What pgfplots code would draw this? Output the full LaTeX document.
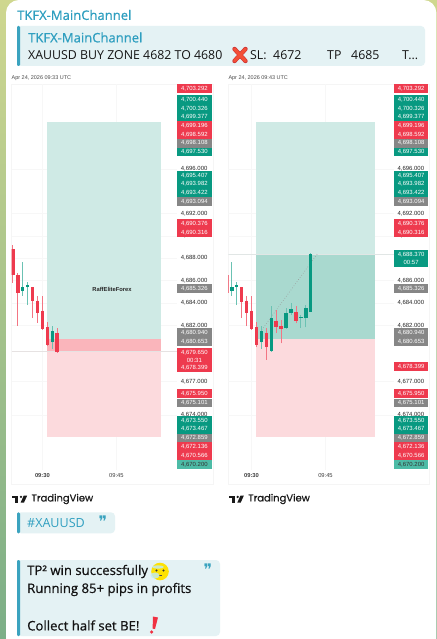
\documentclass[border=0pt]{standalone}
\usepackage{pgfplots}
\pgfplotsset{compat=1.18}
\usepackage{fontspec}
\setmainfont{Open Sans}
\newfontfamily\tv{Liberation Sans}
\newfontfamily\logo[FakeBold=0.6]{Poppins}
\newfontfamily\dv{DejaVu Sans}
\newfontfamily\semi[FakeBold=0.7]{Open Sans}
\definecolor{tvred}{HTML}{EE3A4E}
\definecolor{tvgreen}{HTML}{089981}
\definecolor{tvgrey}{HTML}{868686}
\definecolor{tvteal}{HTML}{4DBBA6}
\definecolor{zoneg}{HTML}{CFEAE5}
\definecolor{zonegd}{HTML}{A9D9CF}
\definecolor{zoner}{HTML}{FCDADD}
\definecolor{zonerd}{HTML}{FAB5BB}
\definecolor{tg}{HTML}{2F9FC0}
\definecolor{quote}{HTML}{E4F2F4}
\definecolor{bar}{HTML}{3BA3BF}
\definecolor{wallA}{HTML}{CFD78F}
\definecolor{wallB}{HTML}{7BAE87}

\newcommand\ptag[4]{%
  \fill[#3] (177.3+#1,#2-4.45) rectangle (211.6+#1,#2+4.45);
  \node[text=white,font=\tv\fontsize{6}{7}\selectfont,inner sep=0] at (194.4+#1,#2) {#4};}
\newcommand\sharedtags[1]{%
  \ptag{#1}{88.7}{tvred}{4,703.292}
  \ptag{#1}{99.7}{tvgreen}{4,700.440}
  \ptag{#1}{108.3}{tvgreen}{4,700.326}
  \ptag{#1}{117}{tvgreen}{4,699.377}
  \ptag{#1}{125.7}{tvred}{4,699.196}
  \ptag{#1}{134.4}{tvred}{4,698.592}
  \ptag{#1}{143.2}{tvgrey}{4,698.108}
  \ptag{#1}{152}{tvgreen}{4,697.530}
  \ptag{#1}{175.3}{tvgreen}{4,695.407}
  \ptag{#1}{184}{tvgreen}{4,693.982}
  \ptag{#1}{192.7}{tvgreen}{4,693.422}
  \ptag{#1}{201.4}{tvgrey}{4,693.094}
  \ptag{#1}{223.7}{tvred}{4,690.376}
  \ptag{#1}{232.4}{tvred}{4,690.316}
  \ptag{#1}{288.7}{tvgrey}{4,685.326}
  \ptag{#1}{332.4}{tvgrey}{4,680.940}
  \ptag{#1}{341.3}{tvgrey}{4,680.653}
  \ptag{#1}{393.7}{tvred}{4,675.950}
  \ptag{#1}{403}{tvgrey}{4,675.101}
  \ptag{#1}{420.4}{tvgreen}{4,673.550}
  \ptag{#1}{429.2}{tvgreen}{4,673.467}
  \ptag{#1}{438}{tvgrey}{4,672.859}
  \ptag{#1}{446.8}{tvred}{4,672.136}
  \ptag{#1}{455.6}{tvred}{4,670.566}
  \fill[tvteal] (177.3+#1,460) rectangle (211.6+#1,468.8);
  \node[text=black!80,font=\tv\fontsize{6}{7}\selectfont,inner sep=0] at (194.4+#1,464.4) {4,670.200};
}
\newcommand\datestamp[2]{\node[text=black!70,font=\tv\fontsize{5.5}{7}\selectfont,anchor=west,inner sep=0] at (#1,78.6) {Apr 24, 2026 #2 UTC};}
\newcommand\pane[1]{\draw[black!4,line width=0.5] (11.7+#1,84) rectangle (213+#1,484);}
\newcommand\tvlogo[1]{%
  \begin{scope}[shift={(#1,0)}]
    \fill[black!90] (12,495.5) rectangle (18.4,497.7);
    \fill[black!90] (15,497.7) rectangle (18.4,502.6);
    \fill[black!90] (20.6,502.6) -- (23.8,495.5) -- (27.2,495.5) -- (24,502.6) -- cycle;
    \fill[black!90] (21,496.9) circle (1.3);
    \node[text=black!90,font=\logo\fontsize{10}{11}\selectfont,anchor=west,inner sep=0] at (31.3,499) {TradingView};
  \end{scope}}

\pgfplotsset{
  candle axis/.style={
    scale only axis, width=165.6bp, height=386bp,
    ymin=4669.08, ymax=4703.57,
    anchor=south west,
    axis line style={draw=none},
    major tick length=0pt,
    xtick={570,585},
    xticklabels={{\textbf{09:30}},{09:45}},
    x tick label style={font=\tv\fontsize{5.8}{7}\selectfont,text=black!75},
    yticklabel pos=right,
    scaled y ticks=false,
    y tick label style={font=\tv\fontsize{6}{7}\selectfont,text=black!85,
      /pgf/number format/assume math mode=true,
      /pgf/number format/fixed,/pgf/number format/fixed zerofill,
      /pgf/number format/precision=3,/pgf/number format/1000 sep={,}},
    xmajorgrids, ymajorgrids,
    major grid style={draw=black!3,line width=0.4bp},
    unbounded coords=jump,
  },
  zone/.style={fill=#1,draw=none,forget plot,mark=none},
  wick/.style={color=#1,line width=0.7bp,mark=none,forget plot,line cap=butt},
  body/.style={color=#1,line width=3.5bp,mark=none,forget plot,line cap=butt},
}

\begin{document}
\begin{tikzpicture}[x=1bp,y=-1bp]
\useasboundingbox (0,0) rectangle (437,639);
% wallpaper and message card
\shade[top color=wallA,bottom color=wallB] (0,0) rectangle (437,639);
\fill[white,rounded corners=13] (6,660) -- (6,0) -- (436.4,0) -- (436.4,660) -- cycle;

% header
\node[text=tg,font=\semi\fontsize{13.1}{15}\selectfont,anchor=west,inner sep=0] at (17,15) {TKFX-MainChannel};
\fill[quote,rounded corners=4] (17,26) rectangle (425,66);
\fill[bar,rounded corners=1.2] (17,26) rectangle (20,66);
\node[text=tg,font=\semi\fontsize{13.1}{15}\selectfont,anchor=west,inner sep=0] at (28,37.5) {TKFX-MainChannel};
\begin{scope}[every node/.style={text=black!92,font=\fontsize{12.4}{14}\selectfont,anchor=west,inner sep=0}]
\node at (28,55) {XAUUSD BUY ZONE 4682 TO 4680};
\node at (250,55) {SL:};
\node at (273,55) {4672};
\node at (327,55) {TP};
\node at (351,55) {4685};
\node at (402,55) {T...};
\end{scope}
% red cross
\draw[line width=4.4,line cap=round,color=red!75!black!80] (234.5,49) -- (245.5,61);
\draw[line width=4.4,line cap=round,color=red!75!black!80] (245.5,49) -- (234.5,61);
\draw[line width=3.2,line cap=round,color=tvred!70!orange] (234.5,49) -- (245.5,61);
\draw[line width=3.2,line cap=round,color=tvred!70!orange] (245.5,49) -- (234.5,61);

% panes
\datestamp{11.5}{09:33}
\datestamp{228.3}{09:43}
\pane{0}
\pane{216.7}

% ---------- left chart
\begin{axis}[candle axis, at={(11.7bp,-470bp)}, xmin=563.77, xmax=597.36,
  ytick={4674,4677,4682,4684,4686,4688,4690,4692,4696}]
\addplot[zone=zoneg] coordinates {(571,4700.20)(594,4700.20)(594,4680.83)(571,4680.83)};
\addplot[zone=zonerd] coordinates {(571,4680.83)(594,4680.83)(594,4679.65)(571,4679.65)};
\addplot[zone=zoner] coordinates {(571,4679.65)(594,4679.65)(594,4672.05)(571,4672.05)};
\addplot[color=tvred!20!black!12,line width=0.5bp,forget plot,mark=none] coordinates {(563.77,4679.65)(597.36,4679.65)};
% wicks, falling candles
\addplot[wick=tvred!70] coordinates {
 (564,4685.82)(564,4689.19)(564,nan)
 (565,4681.95)(565,4686.68)(565,nan)
 (568,4682.69)(568,4685.46)(568,nan)
 (569,4682.24)(569,4684.63)(569,nan)
 (570,4681.59)(570,4684.63)(570,nan)
 (571,4680.19)(571,4682.33)(571,nan)
 (573,4679.56)(573,4681.74)};
% wicks, rising candles
\addplot[wick=tvgreen!60] coordinates {
 (566,4684.63)(566,4687.69)(566,nan)
 (567,4683.82)(567,4685.85)(567,nan)
 (572,4679.89)(572,4681.95)};
% bodies, falling: open, close
\addplot[body=tvred] coordinates {
 (564,4688.80)(564,4686.48)(564,nan)
 (565,4686.50)(565,4684.92)(565,nan)
 (568,4685.41)(568,4684.18)(568,nan)
 (569,4684.21)(569,4683.08)(569,nan)
 (570,4683.31)(570,4681.68)(570,nan)
 (571,4681.88)(571,4680.25)(571,nan)
 (573,4681.35)(573,4679.65)};
% bodies, rising: open, close
\addplot[body=tvgreen] coordinates {
 (566,4685.07)(566,4685.43)(566,nan)
 (567,4685.43)(567,4685.60)(567,nan)
 (572,4680.49)(572,4681.47)};
\end{axis}
\node[text=black!85,font=\tv\bfseries\fontsize{5.8}{7}\selectfont,inner sep=0] at (112,289.7) {RaffEliteForex};
\sharedtags{0}
\ptag{0}{352.4}{tvred}{4,679.650}
\ptag{0}{360.3}{tvred}{00:31}
\ptag{0}{368}{tvred}{4,678.399}

% ---------- right chart
\begin{axis}[candle axis, at={(228.4bp,-470bp)}, xmin=565.31, xmax=598.9,
  ytick={4674,4677,4682,4684,4686,4690,4692,4696}]
\addplot[zone=zoneg] coordinates {(571,4700.20)(595,4700.20)(595,4688.37)(571,4688.37)};
\addplot[zone=zonegd] coordinates {(571,4688.37)(595,4688.37)(595,4680.83)(571,4680.83)};
\addplot[zone=zoner] coordinates {(571,4680.83)(595,4680.83)(595,4672.05)(571,4672.05)};
\addplot[color=tvgreen!30!black!12,line width=0.5bp,forget plot,mark=none] coordinates {(565.31,4688.37)(598.9,4688.37)};
\addplot[color=black!40,line width=0.6bp,dotted,forget plot,mark=none] coordinates {(572.07,4681.59)(583.3,4688.37)};
\addplot[wick=tvred!70] coordinates {
 (565,4681.95)(565,4686.68)(565,nan)
 (568,4682.69)(568,4685.46)(568,nan)
 (569,4681.94)(569,4684.63)(569,nan)
 (570,4681.59)(570,4684.63)(570,nan)
 (571,4680.05)(571,4682.33)(571,nan)
 (573,4678.91)(573,4681.74)(573,nan)
 (575,4681.32)(575,4683.38)(575,nan)
 (576,4680.40)(576,4682.48)(576,nan)
 (579,4682.19)(579,4683.73)};
\addplot[wick=tvgreen!60] coordinates {
 (566,4684.63)(566,4687.69)(566,nan)
 (567,4683.82)(567,4685.85)(567,nan)
 (572,4679.89)(572,4681.95)(572,nan)
 (574,4679.65)(574,4683.73)(574,nan)
 (577,4681.70)(577,4683.55)(577,nan)
 (578,4682.93)(578,4683.98)(578,nan)
 (580,4681.77)(580,4682.93)(580,nan)
 (581,4681.83)(581,4683.82)(581,nan)
 (582,4683.22)(582,4688.50)};
\addplot[body=tvred] coordinates {
 (565,4686.50)(565,4684.92)(565,nan)
 (568,4685.41)(568,4684.10)(568,nan)
 (569,4684.21)(569,4683.08)(569,nan)
 (570,4683.31)(570,4681.68)(570,nan)
 (571,4681.88)(571,4680.25)(571,nan)
 (573,4681.35)(573,4680.10)(573,nan)
 (575,4682.42)(575,4681.86)(575,nan)
 (576,4681.95)(576,4681.65)(576,nan)
 (579,4683.17)(579,4682.39)};
\addplot[body=tvgreen] coordinates {
 (566,4685.07)(566,4685.43)(566,nan)
 (567,4685.43)(567,4685.60)(567,nan)
 (572,4680.49)(572,4681.47)(572,nan)
 (574,4679.74)(574,4682.66)(574,nan)
 (577,4681.74)(577,4683.11)(577,nan)
 (578,4683.14)(578,4683.47)(578,nan)
 (580,4682.66)(580,4682.75)(580,nan)
 (581,4682.63)(581,4683.55)(581,nan)
 (582,4683.22)(582,4688.37)};
\end{axis}
\sharedtags{216.7}
\ptag{216.7}{254.4}{tvgreen}{4,688.370}
\ptag{216.7}{262.4}{tvgreen}{00:57}
\ptag{216.7}{366.7}{tvred}{4,678.399}

% logos
\tvlogo{0}
\tvlogo{216.7}

% hashtag
\fill[quote,rounded corners=4] (17,512.3) rectangle (115,533.3);
\fill[bar,rounded corners=1.2] (17,512.3) rectangle (20,533.3);
\node[text=tg,font=\fontsize{12.6}{14}\selectfont,anchor=west,inner sep=0] at (27,523.5) {\#XAUUSD};
\node[text=bar,font=\dv\fontsize{16}{16}\selectfont,inner sep=0] at (103,522) {❞};

% message
\fill[quote,rounded corners=4] (17,560) rectangle (220,636);
\fill[bar,rounded corners=1.2] (17,560) rectangle (20,636);
\begin{scope}[every node/.style={text=black!92,font=\semi\fontsize{13.2}{15}\selectfont,anchor=west,inner sep=0}]
\node at (27,571.5) {TP² win successfully};
\node at (27,589.5) {Running 85+ pips in profits};
\node at (27,625.5) {Collect half set BE!};
\end{scope}
\node[text=bar,font=\dv\fontsize{16}{16}\selectfont,inner sep=0] at (208,570) {❞};
% emoji: face in clouds
\fill[yellow!85!orange] (160,571.5) circle (8.8);
\fill[black!80] (156.5,570.5) circle (1.1);
\fill[black!80] (163.5,570.5) circle (1.1);
\draw[black!70,line width=0.5] (158.5,575.5) -- (161.5,575.5);
\fill[white!75!cyan,opacity=0.8] (155,575.5) ellipse (4.5 and 3);
\fill[white!75!cyan,opacity=0.8] (158,567) ellipse (6 and 1.6);
% red exclamation
\fill[tvred!85!red] (153,616.5) -- (158,617.5) -- (155,629) -- (152.6,628.6) -- cycle;
\fill[tvred!85!red] (151.6,632) circle (1.8);
\end{tikzpicture}
\end{document}
